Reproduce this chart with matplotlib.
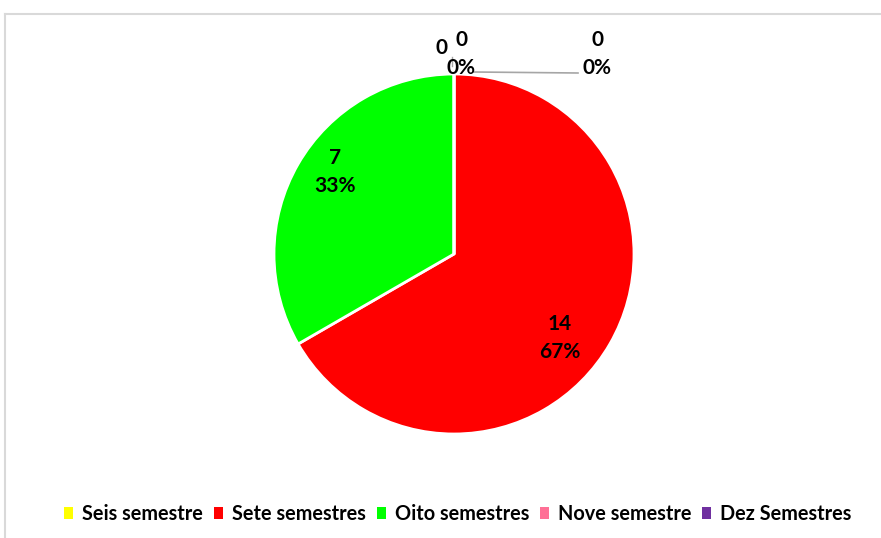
import numpy as np
import matplotlib.pyplot as plt
from matplotlib.patches import Patch

# data
labels = ['Seis semestre', 'Sete semestres', 'Oito semestres', 'Nove semestre', 'Dez Semestres']
values = [0, 14, 7, 0, 0]
colors = ['#FFFF00', '#FF0000', '#00FF00', '#FF7096', '#7030A0']

plt.rcParams['font.family'] = ['Lato', 'DejaVu Sans']

W, H = 881, 538
fig = plt.figure(figsize=(W / 100, H / 100), dpi=100)
ax = fig.add_axes([0, 0, 1, 1])

cx, cy, R = 454, H - 254, 180
total = sum(values)
wedges, _ = ax.pie(values, colors=colors, startangle=90, counterclock=False,
                   center=(cx, cy), radius=R, frame=True,
                   wedgeprops=dict(edgecolor='white', linewidth=2))
ax.set_xlim(0, W)
ax.set_ylim(0, H)
ax.axis('off')

# chart frame (top and left border visible)
ax.plot([5, W], [H - 14, H - 14], color='#D9D9D9', lw=1.5)
ax.plot([5, 5], [0, H - 14], color='#D9D9D9', lw=1.5)

lbl = dict(ha='center', va='center', fontsize=15, fontweight='bold', color='black',
           linespacing=1.5)

# labels for the non-zero wedges (radius fraction, angle shift)
for w, v, rf, da in zip(wedges, values, [0, 0.75, 0.80, 0, 0], [0, -8.4, -4.6, 0, 0]):
    if v == 0:
        continue
    mid = np.deg2rad((w.theta1 + w.theta2) / 2 + da)
    x = cx + rf * R * np.cos(mid)
    y = cy + rf * R * np.sin(mid)
    ax.text(x, y, f"{v}\n{v / total:.0%}", **lbl)

# labels for the zero wedges at the top of the pie
ax.plot([474, 578], [H - 72, H - 73], color='#A6A6A6', lw=1.2)
ax.plot([452, 452], [H - 66, H - 57], color='#A6A6A6', lw=1.0)
ax.text(441, H - 48, f"{values[3]}", **lbl)
ax.text(461, H - 54, f"{values[0]}\n{values[0] / total:.0%}", **lbl)
ax.text(597, H - 54, f"{values[4]}\n{values[4] / total:.0%}", **lbl)

handles = [Patch(facecolor=c, edgecolor='none') for c in colors]
ax.legend(handles, labels, loc='center', bbox_to_anchor=(458 / W, 1 - 514 / H),
          ncol=5, frameon=False, handlelength=0.45, handleheight=0.55,
          handletextpad=0.45, columnspacing=0.55,
          prop=dict(size=14.3, weight='bold'))

fig.savefig('out.png', dpi=100)
